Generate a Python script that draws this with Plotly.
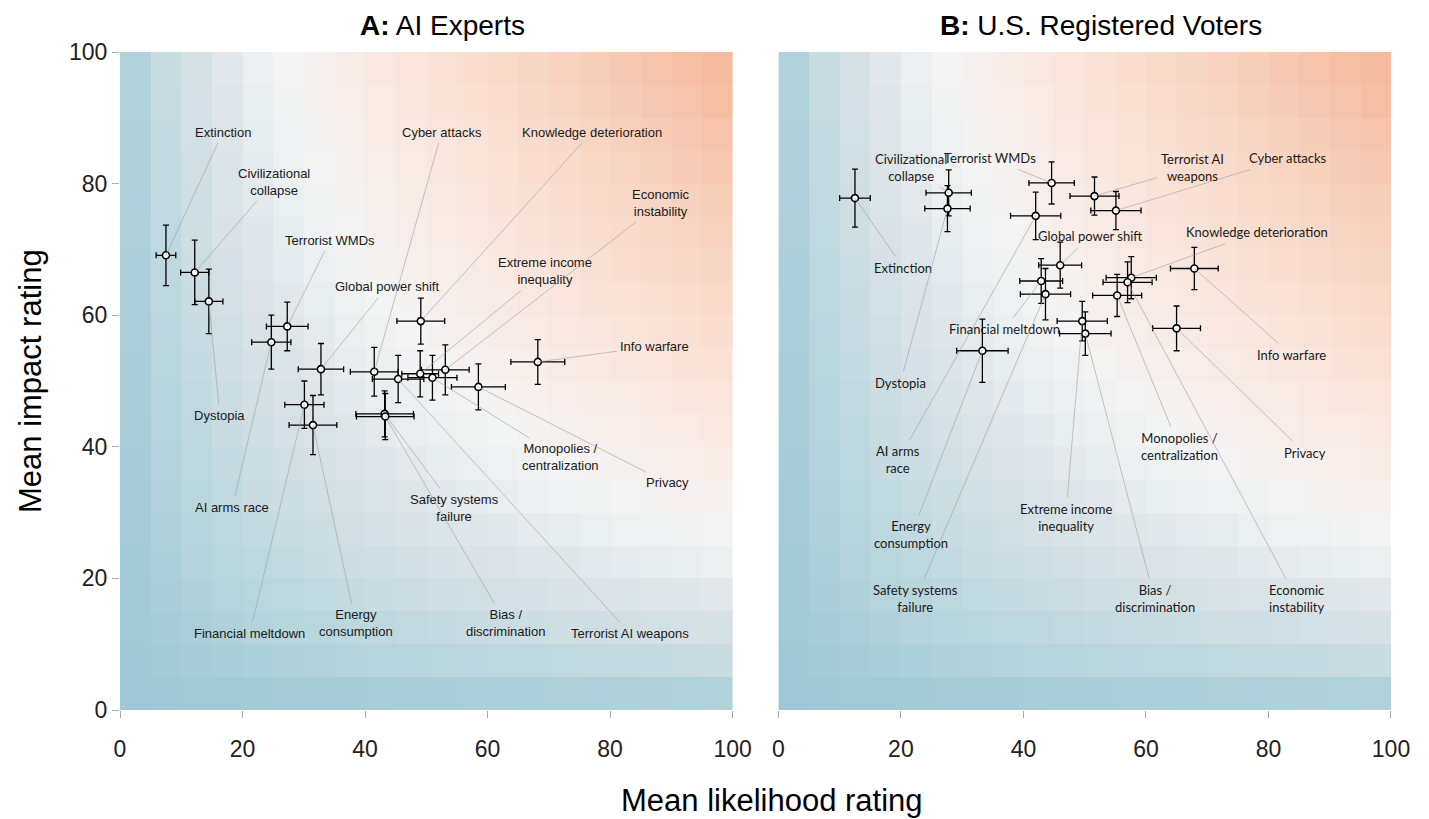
import plotly.graph_objects as go
from plotly.subplots import make_subplots

# risk names, shared by both panels
risks = [
    'Extinction', 'Civilizational<br>collapse', 'Dystopia', 'Terrorist WMDs', 'AI arms race',
    'Global power shift', 'Financial meltdown', 'Energy<br>consumption', 'Cyber attacks',
    'Terrorist AI weapons', 'Knowledge deterioration', 'Extreme income<br>inequality',
    'Monopolies /<br>centralization', 'Economic<br>instability', 'Privacy', 'Info warfare',
    'Safety systems<br>failure', 'Bias /<br>discrimination',
]
# the voters panel wraps a few names differently
risks_b = list(risks)
risks_b[4] = 'AI arms<br>race'
risks_b[9] = 'Terrorist AI<br>weapons'

# A: AI experts
exp_likelihood = [7.5, 12.2, 14.5, 27.3, 24.7, 32.8, 30.1, 31.5, 41.5, 45.4, 49.1, 49.0, 51.0, 53.1, 58.5, 68.2, 43.2, 43.3]
exp_impact = [69.1, 66.5, 62.1, 58.3, 55.9, 51.8, 46.4, 43.3, 51.4, 50.3, 59.1, 51.1, 50.5, 51.7, 49.1, 52.9, 45.0, 44.6]
exp_likelihood_err = [1.6, 2.3, 2.3, 3.4, 3.2, 3.7, 3.2, 3.9, 3.9, 4.2, 3.9, 3.0, 4.0, 3.9, 4.4, 4.4, 4.7, 4.7]
exp_impact_err = [4.6, 4.9, 4.9, 3.7, 4.1, 3.9, 3.6, 4.5, 3.7, 3.6, 3.5, 3.5, 3.4, 3.8, 3.5, 3.4, 3.5, 3.5]

# B: U.S. registered voters
vot_likelihood = [12.5, 27.8, 27.6, 44.6, 42.0, 46.0, 42.9, 33.3, 55.1, 51.6, 57.6, 49.6, 55.3, 57.0, 65.0, 67.9, 43.6, 50.1]
vot_impact = [77.8, 78.6, 76.2, 80.1, 75.1, 67.6, 65.2, 54.6, 75.9, 78.1, 65.7, 59.1, 63.0, 65.0, 58.0, 67.1, 63.2, 57.2]
vot_likelihood_err = [2.5, 3.7, 3.7, 3.7, 4.1, 3.5, 3.5, 4.2, 4.1, 4.0, 4.1, 4.1, 4.0, 4.0, 3.9, 3.9, 4.1, 4.2]
vot_impact_err = [4.4, 3.5, 3.5, 3.2, 3.6, 3.5, 3.4, 4.8, 2.9, 2.9, 3.2, 3.0, 3.2, 3.1, 3.4, 3.2, 3.9, 3.3]

# label placement (text centre, data units)
label_pos_a = [
    (16.8, 87.8), (25.1, 80.3), (16.3, 44.7), (34.3, 71.4), (18.3, 30.7),
    (43.6, 64.3), (21.2, 11.7), (38.5, 13.2), (52.5, 87.8),
    (83.2, 11.7), (77.0, 87.8), (69.3, 66.7),
    (71.9, 38.4), (88.3, 77.1), (89.4, 34.5), (87.3, 55.3),
    (54.6, 30.7), (63.0, 13.2),
]
label_pos_b = [
    (20.4, 67.2), (21.6, 82.5), (19.9, 49.7), (34.5, 83.9), (19.6, 38.0),
    (50.8, 72.0), (36.9, 57.9), (21.7, 26.6), (83.2, 83.9),
    (67.6, 82.5), (78.1, 72.6), (46.9, 29.3),
    (65.4, 40.0), (84.6, 16.9), (85.9, 39.1), (83.7, 54.0),
    (22.4, 16.9), (61.4, 16.9),
]

# background grid (5-point cells), shaded by likelihood x impact
grid_centres = [2.5 + 5 * i for i in range(20)]
grid_z = [[(gx / 100) * (gy / 100) for gx in grid_centres] for gy in grid_centres]

bg_scale = [
    [0.0, '#9dc8d3'], [0.012, '#a9ced8'], [0.03, '#b5d4dc'], [0.075, '#c9dce2'],
    [0.12, '#d6e1e6'], [0.17, '#e1e7eb'], [0.22, '#ecf0f1'], [0.27, '#f4f4f4'],
    [0.35, '#f8ede9'], [0.5, '#f9e2d7'], [0.7, '#f8d3c0'], [1.0, '#f5b697'],
]

fig = make_subplots(rows=1, cols=2, horizontal_spacing=0.036)

panels = [
    (risks, exp_likelihood, exp_impact, exp_likelihood_err, exp_impact_err, label_pos_a, 'Liberation Sans', 13),
    (risks_b, vot_likelihood, vot_impact, vot_likelihood_err, vot_impact_err, label_pos_b, 'Lato', 13),
]

for col, (names, lx, ly, lxe, lye, lpos, lfont, lsize) in enumerate(panels, start=1):
    fig.add_trace(go.Heatmap(
        x=grid_centres, y=grid_centres, z=grid_z,
        colorscale=bg_scale, zmin=0, zmax=1, showscale=False, hoverinfo='skip',
    ), row=1, col=col)

    fig.add_trace(go.Scatter(
        x=lx, y=ly, mode='markers',
        marker=dict(size=7, color='white', line=dict(color='black', width=1.6)),
        error_x=dict(type='data', array=lxe, color='black', thickness=1.3, width=3),
        error_y=dict(type='data', array=lye, color='black', thickness=1.3, width=3),
        text=names, hovertemplate='%{text}<br>%{x}, %{y}<extra></extra>',
        showlegend=False,
    ), row=1, col=col)

    xr = 'x' if col == 1 else 'x2'
    yr = 'y' if col == 1 else 'y2'
    for name, px, py, (tx, ty) in zip(names, lx, ly, lpos):
        fig.add_annotation(
            x=px, y=py, xref=xr, yref=yr,
            ax=tx, ay=ty, axref=xr, ayref=yr,
            text=name, showarrow=True, arrowhead=0, arrowwidth=0.7,
            arrowcolor='rgba(160,160,160,0.85)', standoff=0, borderpad=3,
            font=dict(family=lfont, size=lsize, color='#1a1a1a'), align='center',
        )

tick_font = dict(family='Liberation Sans', size=23, color='#222')
fig.update_xaxes(
    range=[0, 100], tickvals=[0, 20, 40, 60, 80, 100], showgrid=False, zeroline=False,
    ticks='outside', ticklen=7, tickcolor='#aaa', tickfont=tick_font, ticklabelstandoff=11,
    showline=False, automargin=False,
)
fig.update_yaxes(
    range=[0, 100], tickvals=[0, 20, 40, 60, 80, 100], showgrid=False, zeroline=False,
    ticks='outside', ticklen=7, tickcolor='#aaa', tickfont=tick_font, ticklabelstandoff=0,
    showline=False, automargin=False, row=1, col=1,
)
fig.update_yaxes(
    range=[0, 100], showgrid=False, zeroline=False, showticklabels=False, ticks='',
    automargin=False, row=1, col=2,
)

title_font = dict(family='Liberation Sans', size=28, color='black')
fig.add_annotation(text='<b>A:</b> AI Experts', x=0.254, y=1.0, xref='paper', yref='paper',
                   xanchor='center', yanchor='bottom', yshift=10, borderpad=0, showarrow=False,
                   font=title_font)
fig.add_annotation(text='<b>B:</b> U.S. Registered Voters', x=0.772, y=1.0, xref='paper', yref='paper',
                   xanchor='center', yanchor='bottom', yshift=10, borderpad=0, showarrow=False,
                   font=title_font)
fig.add_annotation(text='Mean likelihood rating', x=0.513, y=-0.1368, xref='paper', yref='paper',
                   xanchor='center', yanchor='middle', showarrow=False,
                   font=dict(family='Liberation Sans', size=31, color='black'))
fig.add_annotation(text='Mean impact rating', x=0, y=0.5, xref='paper', yref='paper',
                   xanchor='center', yanchor='middle', xshift=-90, textangle=-90, showarrow=False,
                   font=dict(family='Liberation Sans', size=31, color='black'))

# the page adds an 8px body margin, so the figure is trimmed to stay inside the window
fig.update_layout(
    width=1421, height=811,
    margin=dict(l=112, r=38, t=44, b=109),
    plot_bgcolor='white', paper_bgcolor='white',
)

fig.write_html("out.html")
